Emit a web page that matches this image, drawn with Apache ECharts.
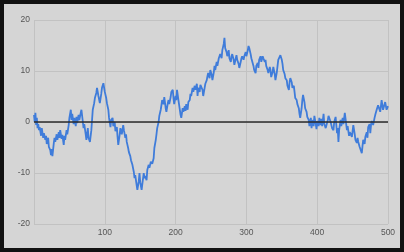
<!DOCTYPE html>
<html>
<head>
<meta charset="utf-8">
<script src="https://cdn.jsdelivr.net/npm/echarts@6/dist/echarts.min.js"></script>
<style>
html,body{margin:0;padding:0;width:404px;height:252px;background:#121212;overflow:hidden;}
#c{position:absolute;left:4px;top:4px;width:396px;height:244px;background:#d5d5d5;}
</style>
</head>
<body>
<div id="c"></div>
<script>
var xs = [0,1,2,3,4,5,6,7,8,10,11,13,14,16,17,18,20,21,23,24,25,26,28,29,30,32,33,35,36,37,39,40,42,43,44,46,47,49,50,52,53,54,56,57,59,60,61,63,64,66,67,69,70,71,73,74,76,77,79,81,82,83,85,86,88,89,91,93,95,96,98,100,102,103,105,106,108,109,111,112,114,115,117,118,119,121,122,124,126,127,129,130,131,133,134,136,137,139,141,142,143,145,146,148,149,150,152,153,155,156,157,159,160,162,163,165,166,167,169,170,172,173,174,176,177,179,180,181,183,184,186,187,189,190,191,193,194,196,197,198,200,201,202,204,206,207,208,210,211,213,214,215,217,218,220,221,222,224,225,227,228,230,231,232,234,235,237,238,239,241,242,244,245,246,248,249,251,252,254,255,256,258,259,261,262,263,265,266,268,269,270,272,273,275,276,278,279,280,282,283,285,286,287,289,290,292,293,294,296,297,299,300,302,303,304,306,307,309,310,311,313,314,316,317,318,320,321,323,324,326,327,328,330,331,333,334,335,337,338,340,341,343,344,345,347,348,350,351,352,354,355,357,358,360,361,362,364,365,367,368,369,371,372,374,375,376,378,379,380,382,383,385,386,388,389,391,392,393,395,396,398,399,400,402,403,405,406,407,409,410,412,413,415,416,418,419,421,423,424,426,428,429,430,431,433,434,436,437,439,442,443,445,446,449,451,453,454,456,457,458,460,463,464,465,467,468,470,471,472,474,475,476,477,479,481,482,484,486,489,491,493,496,498,500];
var ys = [1.4,0,1.8,-0.6,0.8,-1.2,-0.4,-1.6,-1.0,-2.7,-1.2,-3.1,-2.2,-3.5,-2.7,-4.3,-3.1,-4.9,-5.5,-6.5,-5.3,-6.7,-4.1,-3.1,-3.9,-2.4,-3.5,-2.0,-3.1,-1.6,-3.3,-2.5,-4.5,-2.7,-3.5,-1.6,-2.4,-0.6,0.8,2.4,0.4,1.6,-0.4,0.8,-0.8,1.0,-0.2,1.4,0.4,1.8,2.4,0,-1.2,-0.4,-2.4,-3.5,-1.2,-3.1,-3.9,-1.6,0.4,2.4,3.7,4.7,5.7,6.7,5.1,3.7,5.5,6.7,7.6,5.9,4.7,3.7,2.4,0.8,-1.0,0.4,0.8,-0.8,0,-1.8,-1.0,-2.9,-4.5,-2.5,-1.2,-2.4,-0.6,-1.6,-3.1,-2.4,-3.9,-5.1,-5.9,-6.7,-7.5,-8.4,-9.8,-11.0,-10.4,-12.4,-13.3,-11.6,-10.0,-11.8,-13.3,-12.2,-10.0,-11.0,-10.6,-11.4,-9.4,-8.4,-9.0,-7.8,-7.5,-8.2,-7.1,-5.1,-3.5,-2.4,-1.2,0,1.2,2.4,3.3,4.3,3.5,4.9,2.7,2.0,3.7,4.3,3.5,4.9,5.9,6.3,4.7,3.5,5.1,4.3,6.3,4.3,2.4,1.4,0.8,2.7,2.0,3.1,2.2,3.5,2.4,3.9,4.3,5.5,5.1,6.7,5.9,7.1,6.3,7.5,5.1,6.7,5.9,7.3,7.6,6.3,5.1,6.7,7.5,8.2,9.0,9.6,8.6,10.2,9.2,8.2,9.8,11.0,10.2,11.8,11.0,12.5,12.9,13.3,12.5,14.1,15.3,16.5,14.5,13.7,12.9,14.1,12.5,11.8,12.9,13.3,12.2,11.2,12.5,13.1,12.2,11.4,10.6,11.8,12.5,12.9,12.2,12.9,13.7,12.9,14.1,14.9,14.5,13.3,12.5,12.2,11.0,10.2,9.6,11.0,11.6,10.6,12.2,12.9,11.8,12.9,12.5,11.8,12.2,11.0,10.2,9.6,10.8,10.2,8.8,9.8,10.8,9.4,8.2,9.8,11.0,12.2,12.5,13.1,12.2,11.4,10.2,9.4,8.6,8.2,7.1,6.3,7.8,8.6,7.8,6.7,7.1,5.9,4.7,4.3,3.5,2.7,1.6,0.8,2.7,4.3,5.3,3.9,2.7,2.0,1.0,0.4,-0.8,0.8,-1.2,0.4,-0.8,1.2,-0.4,-1.4,0.2,-0.8,0.8,-0.6,0.6,-0.8,1.6,-0.4,-1.2,-1.2,0.4,1.2,1.4,0,-1.2,-1.6,0,1.0,-2.2,-1.2,-3.9,-1.6,0.4,-0.8,0.8,-0.4,1.8,-1.6,-0.8,-2.7,-2.0,-2.9,-0.6,-2.4,-3.5,-4.1,-3.1,-3.9,-4.9,-6.1,-4.7,-3.5,-4.3,-2.9,-2.0,-3.1,-1.0,-0.4,-2.2,-0.6,0.2,-0.6,0.8,1.4,2.4,3.3,2.0,4.3,2.4,3.9,2.4,3.1];
var xTicks = [100,200,300,400,500];
var yTicks = [-20,-10,0,10,20];

var points = xs.map(function(x,i){return [x, ys[i]];});
var chart = echarts.init(document.getElementById('c'), null, {renderer:'canvas'});
var labelStyle = {color:'#555', fontSize:8.5, fontFamily:'Arial, Liberation Sans, sans-serif'};
chart.setOption({
  backgroundColor:'#d5d5d5',
  animation:false,
  grid:{left:30, top:16, width:354, height:204, containLabel:false},
  xAxis:{
    type:'value', min:0, max:500, interval:100,
    axisLine:{show:false}, axisTick:{show:false},
    axisLabel:Object.assign({margin:4, showMinLabel:false, formatter:function(v){return xTicks.indexOf(v)>=0? String(v):'';}}, labelStyle),
    splitLine:{show:true, lineStyle:{color:'#c2c2c2', width:1}}
  },
  yAxis:{
    type:'value', min:-20, max:20, interval:10,
    axisLine:{show:false}, axisTick:{show:false},
    axisLabel:Object.assign({margin:4, formatter:function(v){return yTicks.indexOf(v)>=0? String(v):'';}}, labelStyle),
    splitLine:{show:true, lineStyle:{color:'#c2c2c2', width:1}}
  },
  series:[{
    type:'line', data:points, showSymbol:false, symbol:'none',
    lineStyle:{color:'#3f7cda', width:1.8},
    markLine:{silent:true, symbol:['none','none'], label:{show:false},
      lineStyle:{color:'#2a2a2a', width:1.5, type:'solid'},
      data:[{yAxis:0}]}
  }]
});
</script>
</body>
</html>
